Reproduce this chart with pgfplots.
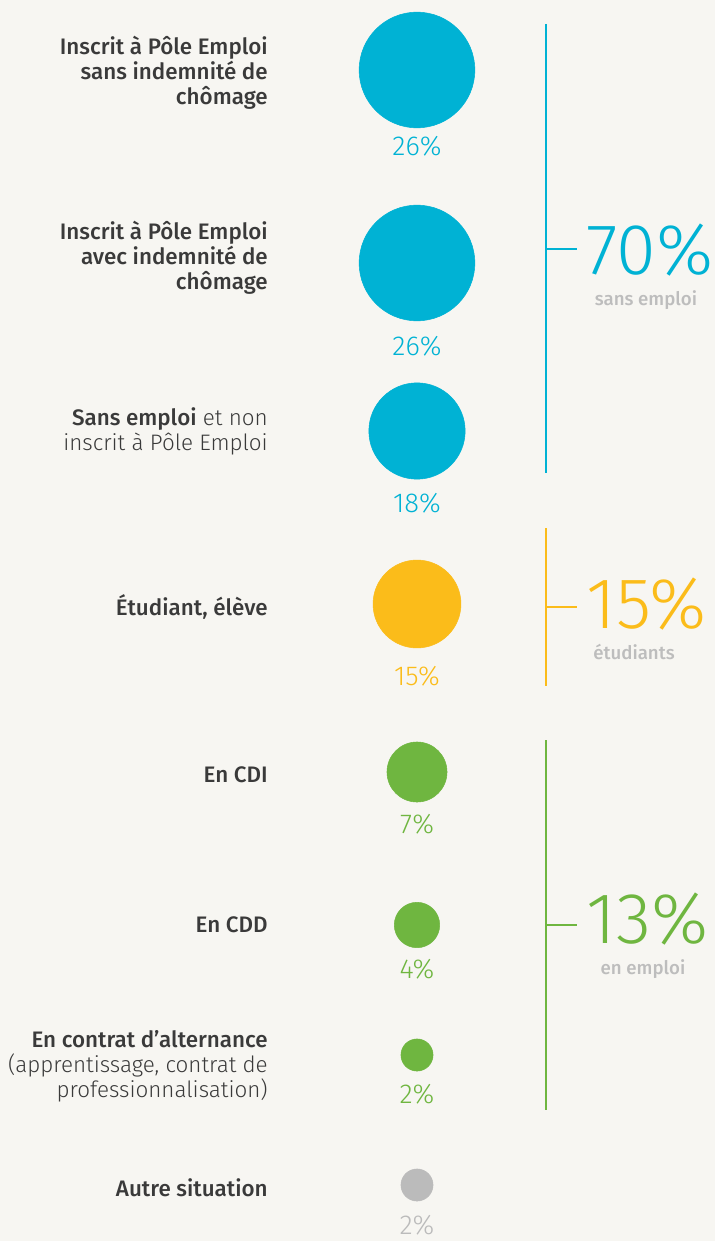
\documentclass[border=0pt]{standalone}
\usepackage{pgfplots}
\pgfplotsset{compat=1.18}
\usepackage{pgfplotstable}
\usepackage{fontspec}
\setmainfont{Fira Sans Light}
\newfontfamily\lightfont{Fira Sans Light}
\newfontfamily\medfont{Fira Sans Medium}
\newfontfamily\subfont{Fira Sans Medium}
\definecolor{bg}{HTML}{F7F6F2}
\definecolor{cblue}{HTML}{00B2D4}
\definecolor{cyel}{HTML}{FBBC1A}
\definecolor{cgreen}{HTML}{6FB640}
\definecolor{cgrey}{HTML}{BBBBBB}
\definecolor{ctext}{HTML}{3A3A3A}
\definecolor{csub}{HTML}{BDBDBD}

% x, y in pixels; v = percentage; ly = y of the percentage label
\pgfplotstableread{
x y v ly
417 70 26 146
417 263 26 346
417 431 18 503
}\tblue
\pgfplotstableread{
x y v ly
417 604 15 676
}\tyel
\pgfplotstableread{
x y v ly
417 772 7 824
417 925 4 969
417 1055 2 1094
}\tgreen
\pgfplotstableread{
x y v ly
417 1185 2 1225
}\tgrey

\newcommand{\lab}{\fontsize{16.8}{18.75}\selectfont}
\begin{document}
\begin{tikzpicture}
\fill[bg] (0,0) rectangle (536.25pt,930.75pt);
\path[use as bounding box] (0,0) rectangle (536.25pt,930.75pt);
\begin{axis}[at={(0,0)}, anchor=south west, scale only axis,
  width=536.25pt, height=930.75pt,
  xmin=0, xmax=715, ymin=0, ymax=1241, y dir=reverse,
  hide axis, clip=false,
  bubble/.style={only marks, scatter, mark=*,
    scatter src=explicit, 
    scatter/use mapped color={draw=#1, fill=#1},
    visualization depends on={8.51*sqrt(\thisrow{v}) \as \rad},
    scatter/@pre marker code/.append style={/tikz/mark size=\rad}},
  pct/.style={only marks, mark=none, point meta=explicit,
    nodes near coords={\pgfmathprintnumber[assume math mode=true]{\pgfplotspointmeta}\%},
    every node near coord/.append style={text=#1, anchor=center, inner sep=0pt,
      font=\lightfont\fontsize{20.5}{21}\selectfont}},
  brk/.style={#1, line width=1.5pt, no marks}]

\addplot[bubble=cblue] table[x=x, y=y, meta=v] {\tblue};
\addplot[bubble=cyel] table[x=x, y=y, meta=v] {\tyel};
\addplot[bubble=cgreen] table[x=x, y=y, meta=v] {\tgreen};
\addplot[bubble=cgrey] table[x=x, y=y, meta=v] {\tgrey};

\addplot[pct=cblue] table[x=x, y=ly, meta=v] {\tblue};
\addplot[pct=cyel] table[x=x, y=ly, meta=v] {\tyel};
\addplot[pct=cgreen] table[x=x, y=ly, meta=v] {\tgreen};
\addplot[pct=cgrey] table[x=x, y=ly, meta=v] {\tgrey};

% brackets
\addplot[brk=cblue] coordinates {(546,24) (546,473)};
\addplot[brk=cblue] coordinates {(546,249) (577,249)};
\addplot[brk=cyel] coordinates {(546,528) (546,686)};
\addplot[brk=cyel] coordinates {(546,607) (577,607)};
\addplot[brk=cgreen] coordinates {(546,740) (546,1110)};
\addplot[brk=cgreen] coordinates {(546,925) (577,925)};

% big totals
\begin{scope}[every node/.style={inner sep=0pt, text depth=0pt}]
\node[anchor=base west, text=cblue, font=\lightfont\fontsize{54}{54}\selectfont] at (axis cs:586,274) {70\%};
\node[anchor=base west, text=cyel, font=\lightfont\fontsize{54}{54}\selectfont] at (axis cs:586,628) {15\%};
\node[anchor=base west, text=cgreen, font=\lightfont\fontsize{54}{54}\selectfont] at (axis cs:586,943) {13\%};
\end{scope}
\begin{scope}[every node/.style={anchor=base, inner sep=0pt, text=csub, font=\subfont\fontsize{14}{16}\selectfont}]
\node at (axis cs:646,305) {sans emploi};
\node at (axis cs:634,659) {étudiants};
\node at (axis cs:643,974) {en emploi};
\end{scope}

% category labels
\begin{scope}[every node/.style={anchor=east, align=right, inner sep=0pt, text=ctext, font=\lab}]
\node at (axis cs:268,73) {\medfont Inscrit à Pôle Emploi\\\medfont sans indemnité de\\\medfont chômage};
\node at (axis cs:268,258) {\medfont Inscrit à Pôle Emploi\\\medfont avec indemnité de\\\medfont chômage};
\node at (axis cs:268,431) {{\medfont Sans emploi} et non\\inscrit à Pôle Emploi};
\node at (axis cs:268,607) {\medfont Étudiant, élève};
\node at (axis cs:268,775) {\medfont En CDI};
\node at (axis cs:268,925) {\medfont En CDD};
\node at (axis cs:268,1066) {\medfont En contrat d’alternance\\(apprentissage, contrat de\\professionnalisation)};
\node at (axis cs:268,1188) {\medfont Autre situation};
\end{scope}
\end{axis}
\end{tikzpicture}
\end{document}
